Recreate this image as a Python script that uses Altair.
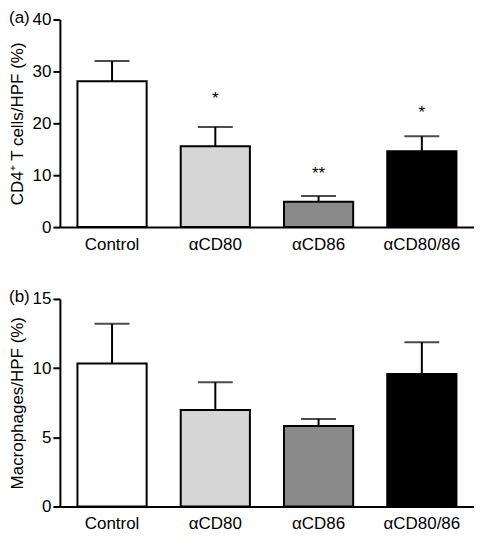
import altair as alt
import pandas as pd

groups = ["Control", "αCD80", "αCD86", "αCD80/86"]
colors = ["#ffffff", "#d6d6d6", "#8a8a8a", "#000000"]

cd4_mean = [28.1, 15.6, 4.9, 14.6]
cd4_sem = [3.9, 3.7, 1.1, 2.9]
cd4_star = ["", "*", "**", "*"]
cd4_star_y = [0, 24.6, 10.3, 22.0]

mac_mean = [10.33, 6.98, 5.82, 9.58]
mac_sem = [2.87, 2.0, 0.51, 2.29]

FONT = "Liberation Sans"
FS = 17
W, H = 415, 208


def panel(mean, sem, ymax, yticks, ytitle, tag, stars=None, star_y=None):
    df = pd.DataFrame({
        "group": groups,
        "mean": mean,
        "upper": [m + s for m, s in zip(mean, sem)],
    })
    x = alt.X("group:N", sort=groups,
              scale=alt.Scale(paddingInner=0.33, paddingOuter=0.17),
              axis=alt.Axis(title=None, labelAngle=0, ticks=False, labelPadding=9,
                            labelFontSize=FS, labelFont=FONT, labelColor="black",
                            domainColor="black", domainWidth=2))
    y = alt.Y("mean:Q", scale=alt.Scale(domain=[0, ymax], nice=False),
              axis=alt.Axis(title=ytitle, values=yticks, grid=False, tickSize=7, tickWidth=2,
                            tickColor="black", domainColor="black", domainWidth=2,
                            labelFontSize=FS, labelFont=FONT, labelColor="black", labelPadding=2,
                            titleFont=FONT, titleFontSize=FS, titleFontWeight="normal",
                            titleColor="black", titlePadding=6))
    base = alt.Chart(df)
    bars = base.mark_bar(stroke="black", strokeWidth=2).encode(
        x=x, y=y,
        fill=alt.Fill("group:N", scale=alt.Scale(domain=groups, range=colors), legend=None),
    )
    stem = base.mark_rule(color="black", strokeWidth=2).encode(
        x=alt.X("group:N", sort=groups), y="mean:Q", y2="upper:Q")
    cap = base.mark_tick(color="black", orient="horizontal", size=35, thickness=2).encode(
        x=alt.X("group:N", sort=groups), y="upper:Q")
    layers = [bars, stem, cap]
    if stars is not None:
        sdf = pd.DataFrame({"group": groups, "star": stars, "sy": star_y})
        sdf = sdf[sdf["star"] != ""]
        st = alt.Chart(sdf).mark_text(fontSize=FS, font=FONT, color="black", baseline="middle").encode(
            x=alt.X("group:N", sort=groups), y="sy:Q", text="star:N")
        layers.append(st)
    tdf = pd.DataFrame({"t": [tag]})
    tag_text = alt.Chart(tdf).mark_text(fontSize=FS, font=FONT, color="black", align="left",
                                        baseline="middle").encode(
        x=alt.value(-51), y=alt.value(-2), text="t:N")
    layers.append(tag_text)
    return alt.layer(*layers).properties(width=W, height=H)


top = panel(cd4_mean, cd4_sem, 40, [0, 10, 20, 30, 40], "CD4⁺ T cells/HPF (%)", "(a)",
            cd4_star, cd4_star_y)
bottom = panel(mac_mean, mac_sem, 15, [0, 5, 10, 15], "Macrophages/HPF (%)", "(b)")

chart = alt.vconcat(top, bottom, spacing=36).configure_view(stroke=None).properties(
    padding=0, background="white")

chart.save("out.html", embed_options={"renderer": "svg", "actions": False})
